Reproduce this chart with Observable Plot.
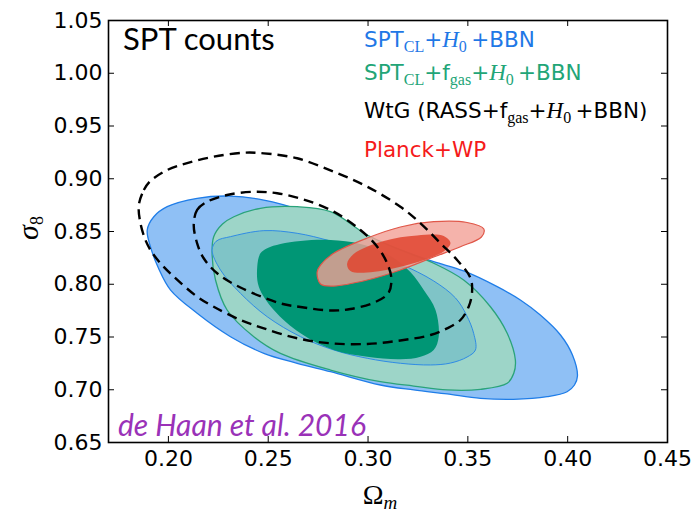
<!DOCTYPE html>
<html>
<head>
<meta charset="utf-8">
<script src="https://cdn.jsdelivr.net/npm/d3@7"></script>
<script src="https://cdn.jsdelivr.net/npm/@observablehq/plot@0.6"></script>
<style>
  html, body { margin: 0; padding: 0; background: #fff; }
  #chart { width: 694px; height: 512px; }
</style>
</head>
<body>
<div id="chart"></div>
<script>
// Axis ticks
const xTicks = [0.20, 0.25, 0.30, 0.35, 0.40, 0.45];
const yTicks = [0.65, 0.70, 0.75, 0.80, 0.85, 0.90, 0.95, 1.00, 1.05];

// Confidence contours in the (Omega_m, sigma_8) plane: [Omega_m, sigma_8]
const sptH0Outer = [
  [0.1894, 0.8514], [0.1927, 0.8640], [0.1994, 0.8735], [0.2144, 0.8815], [0.2311, 0.8836],
  [0.2478, 0.8798], [0.2662, 0.8704], [0.2828, 0.8578], [0.2996, 0.8451], [0.3162, 0.8325],
  [0.3329, 0.8214], [0.3479, 0.8126], [0.3647, 0.7977], [0.3763, 0.7851], [0.3863, 0.7708],
  [0.3964, 0.7519], [0.4024, 0.7329], [0.4049, 0.7130], [0.4034, 0.7045], [0.3997, 0.6981],
  [0.3897, 0.6934], [0.3728, 0.6909], [0.3563, 0.6919], [0.3396, 0.6960], [0.3229, 0.6998],
  [0.3062, 0.7045], [0.2812, 0.7171], [0.2645, 0.7251], [0.2478, 0.7345], [0.2311, 0.7503],
  [0.2144, 0.7725], [0.2011, 0.7945], [0.1950, 0.8154], [0.1910, 0.8356]
];
const sptH0Inner = [
  [0.2219, 0.8325], [0.2241, 0.8410], [0.2311, 0.8451], [0.2478, 0.8508], [0.2645, 0.8483],
  [0.2812, 0.8410], [0.2996, 0.8306], [0.3162, 0.8192], [0.3329, 0.8031], [0.3438, 0.7870],
  [0.3493, 0.7708], [0.3529, 0.7535], [0.3538, 0.7377], [0.3496, 0.7310], [0.3413, 0.7253],
  [0.3313, 0.7235], [0.3162, 0.7251], [0.2996, 0.7298], [0.2828, 0.7377], [0.2662, 0.7503],
  [0.2495, 0.7692], [0.2361, 0.7914], [0.2261, 0.8135]
];
const sptFgasOuter = [
  [0.2219, 0.8277], [0.2227, 0.8451], [0.2271, 0.8571], [0.2328, 0.8640], [0.2461, 0.8720],
  [0.2645, 0.8735], [0.2812, 0.8688], [0.2996, 0.8467], [0.3162, 0.8325], [0.3329, 0.8199],
  [0.3479, 0.8040], [0.3613, 0.7787], [0.3697, 0.7535], [0.3738, 0.7282], [0.3730, 0.7156],
  [0.3697, 0.7061], [0.3563, 0.7004], [0.3396, 0.6998], [0.3229, 0.7035], [0.3062, 0.7076],
  [0.2812, 0.7187], [0.2561, 0.7345], [0.2428, 0.7503], [0.2294, 0.7756], [0.2236, 0.8040]
];
const sptFgasInner = [
  [0.2445, 0.8166], [0.2461, 0.8293], [0.2495, 0.8341], [0.2561, 0.8381], [0.2662, 0.8410],
  [0.2812, 0.8419], [0.2962, 0.8381], [0.3112, 0.8268], [0.3212, 0.8116], [0.3279, 0.7945],
  [0.3338, 0.7756], [0.3354, 0.7503], [0.3329, 0.7377], [0.3263, 0.7313], [0.3162, 0.7289],
  [0.2996, 0.7313], [0.2828, 0.7377], [0.2662, 0.7535], [0.2528, 0.7756], [0.2453, 0.7977]
];
const wtgOuter = [
  [0.1852, 0.8751], [0.1877, 0.8893], [0.1910, 0.8979], [0.1994, 0.9083], [0.2094, 0.9149],
  [0.2227, 0.9209], [0.2378, 0.9247], [0.2478, 0.9241], [0.2645, 0.9194], [0.2828, 0.9067],
  [0.2996, 0.8925], [0.3162, 0.8735], [0.3263, 0.8578], [0.3363, 0.8388], [0.3446, 0.8230],
  [0.3513, 0.8059], [0.3521, 0.7926], [0.3504, 0.7787], [0.3463, 0.7661], [0.3396, 0.7582],
  [0.3313, 0.7519], [0.3162, 0.7467], [0.2996, 0.7434], [0.2812, 0.7440], [0.2645, 0.7488],
  [0.2478, 0.7582], [0.2361, 0.7661], [0.2227, 0.7787], [0.2144, 0.7882], [0.2027, 0.8072],
  [0.1960, 0.8199], [0.1910, 0.8325], [0.1885, 0.8419], [0.1860, 0.8578]
];
const wtgInner = [
  [0.2127, 0.8562], [0.2144, 0.8704], [0.2194, 0.8782], [0.2294, 0.8846], [0.2428, 0.8877],
  [0.2545, 0.8862], [0.2678, 0.8803], [0.2828, 0.8688], [0.2962, 0.8514], [0.3046, 0.8356],
  [0.3096, 0.8199], [0.3117, 0.8050], [0.3102, 0.7917], [0.3037, 0.7832], [0.2912, 0.7765],
  [0.2812, 0.7751], [0.2662, 0.7784], [0.2561, 0.7819], [0.2361, 0.7969], [0.2244, 0.8104],
  [0.2176, 0.8249], [0.2144, 0.8388]
];
const planckOuter = [
  [0.2745, 0.8116], [0.2762, 0.8182], [0.2828, 0.8293], [0.2996, 0.8438], [0.3162, 0.8543],
  [0.3329, 0.8593], [0.3496, 0.8585], [0.3580, 0.8524], [0.3568, 0.8448], [0.3463, 0.8356],
  [0.3329, 0.8258], [0.3162, 0.8135], [0.2996, 0.8040], [0.2828, 0.7983], [0.2762, 0.8002]
];
const planckInner = [
  [0.2895, 0.8192], [0.2928, 0.8287], [0.3079, 0.8410], [0.3246, 0.8462], [0.3379, 0.8457],
  [0.3413, 0.8391], [0.3388, 0.8325], [0.3329, 0.8263], [0.3162, 0.8166], [0.2996, 0.8111],
  [0.2912, 0.8126]
];

const W = 694, H = 512;
const mL = 108, mR = 27, mT = 20, mB = 70;
const innerW = W - mL - mR, innerH = H - mT - mB;
const tickLen = 6;

const contour = (pts, opts) =>
  Plot.line(pts, {x: d => d[0], y: d => d[1], curve: "catmull-rom-closed", ...opts});

const plot = Plot.plot({
  width: W,
  height: H,
  marginLeft: mL,
  marginRight: mR,
  marginTop: mT,
  marginBottom: mB,
  style: {fontFamily: "DejaVu Sans", fontSize: "22px", color: "#000", background: "#fff"},
  x: {domain: [0.17, 0.45]},
  y: {domain: [0.65, 1.05]},
  marks: [
    contour(sptH0Outer, {fill: "#8fc0f5", stroke: "#1f7de8", strokeWidth: 1.3}),
    contour(sptFgasOuter, {fill: "#9dd5c8", stroke: "#2aa37a", strokeWidth: 1.3}),
    contour(sptH0Inner, {fill: "#7fc4c7", stroke: "#2f8be5", strokeWidth: 1}),
    contour(sptFgasInner, {fill: "#009675", stroke: "none"}),
    contour(planckOuter, {fill: "rgb(242,160,150)", fillOpacity: 0.8, stroke: "#e0584a", strokeWidth: 1.2}),
    contour(planckInner, {fill: "#e0442f", fillOpacity: 0.85, stroke: "none"}),
    contour(wtgOuter, {fill: "none", stroke: "#000", strokeWidth: 2.4, strokeDasharray: "10,6", strokeLinecap: "butt"}),
    contour(wtgInner, {fill: "none", stroke: "#000", strokeWidth: 2.4, strokeDasharray: "10,6", strokeLinecap: "butt"}),
    // inward ticks on all four sides
    Plot.tickX(xTicks, {x: d => d, insetTop: innerH - tickLen, stroke: "#000", strokeWidth: 1}),
    Plot.tickX(xTicks, {x: d => d, insetBottom: innerH - tickLen, stroke: "#000", strokeWidth: 1}),
    Plot.tickY(yTicks, {y: d => d, insetRight: innerW - tickLen, stroke: "#000", strokeWidth: 1}),
    Plot.tickY(yTicks, {y: d => d, insetLeft: innerW - tickLen, stroke: "#000", strokeWidth: 1}),
    Plot.axisX(xTicks, {tickSize: 0, tickPadding: 8, tickFormat: d3.format(".2f"), label: null}),
    Plot.axisY(yTicks, {tickSize: 0, tickPadding: 6, tickFormat: d3.format(".2f"), label: null}),
    Plot.frame({stroke: "#000", strokeWidth: 1.6})
  ]
});

document.getElementById("chart").appendChild(plot);

// Annotations and rich-text legend
const svg = d3.select(plot);
const sans = "DejaVu Sans";
const serif = "Liberation Serif";

function richText(x, y, color, parts, size) {
  const t = svg.append("text").attr("x", x).attr("y", y).attr("fill", color)
    .attr("text-anchor", "start")
    .attr("font-family", sans).attr("font-size", size);
  let shift = 0;
  for (const [s, kind] of parts) {
    const span = t.append("tspan").text(s);
    let target = 0;
    if (kind === "sub") {
      target = 5;
      span.attr("font-family", serif).attr("font-size", 16);
    } else if (kind === "it") {
      span.attr("font-family", serif).attr("font-style", "italic").attr("font-size", 23);
    }
    if (target !== shift) { span.attr("dy", target - shift); shift = target; }
  }
  return t;
}

const legendRows = [
  {color: "#1f78e6", y: 47, parts: [["SPT"], ["CL", "sub"], ["+"], ["H", "it"], ["0", "sub"], ["\u2009+BBN"]]},
  {color: "#22a577", y: 80, parts: [["SPT"], ["CL", "sub"], ["+f"], ["gas", "sub"], ["+"], ["H", "it"], ["0", "sub"], ["\u2009+BBN"]]},
  {color: "#000000", y: 118, parts: [["WtG (RASS+f"], ["gas", "sub"], ["+"], ["H", "it"], ["0", "sub"], ["\u2009+BBN)"]]},
  {color: "#f51b1b", y: 156.5, parts: [["Planck+WP"]]}
];
for (const row of legendRows) richText(364, row.y, row.color, row.parts, 21.5);

svg.append("text").attr("x", 123).attr("y", 50).attr("text-anchor", "start")
  .attr("font-family", "Lato").attr("font-size", 31).attr("fill", "#000")
  .text("SPT counts");

svg.append("text").attr("x", 118).attr("y", 436).attr("text-anchor", "start")
  .attr("font-family", "Lato").attr("font-style", "italic").attr("font-size", 30)
  .attr("fill", "#9a32b8")
  .text("de Haan et al. 2016");

// axis titles
const yl = svg.append("text").attr("transform", "translate(38,228) rotate(-90)")
  .attr("text-anchor", "middle").attr("font-family", serif).attr("fill", "#000");
yl.append("tspan").attr("font-style", "italic").attr("font-size", 30).text("\u03c3");
yl.append("tspan").attr("font-size", 18).attr("dy", 5).text("8");

const xl = svg.append("text").attr("x", 380).attr("y", 504)
  .attr("text-anchor", "middle").attr("font-family", serif).attr("fill", "#000");
xl.append("tspan").attr("font-size", 28).text("\u03a9");
xl.append("tspan").attr("font-size", 19).attr("font-style", "italic").attr("dy", 5).text("m");
</script>
</body>
</html>
